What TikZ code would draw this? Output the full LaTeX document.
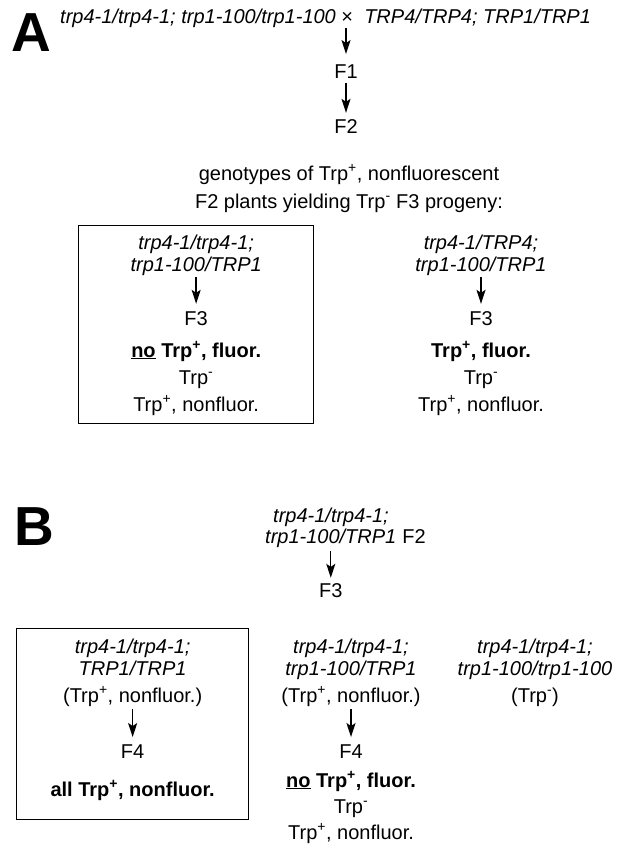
\documentclass[tikz,border=0pt]{standalone}
\usepackage{fontspec}
\setmainfont{Liberation Sans}
\usetikzlibrary{arrows.meta}
\begin{document}
\begin{tikzpicture}[x=1pt,y=-1pt,
  txt/.style={inner sep=0pt, anchor=base, font=\fontsize{20}{22}\selectfont},
  gen/.style={txt, font=\fontsize{20}{22}\selectfont\itshape},
  bld/.style={txt, font=\fontsize{20}{22}\selectfont\bfseries},
  panel/.style={inner sep=0pt, font=\fontsize{55}{55}\selectfont\bfseries, anchor=base west},
  arr/.style={line width=1.4pt, -{Stealth[length=14pt,width=9pt,inset=3pt]}},
  boxline/.style={draw, line width=1.3pt, inner sep=0pt}]
\useasboundingbox (0,0) rectangle (623,856);
% ---------- Panel A ----------
\node[panel] (A) at (11,52) {A};
\node[txt, anchor=base west] (cross) at (60,24) {\textit{trp4-1/trp4-1; trp1-100/trp1-100} × \ \textit{TRP4/TRP4; TRP1/TRP1}};
\node[txt] (F1) at (346,79) {F1};
\node[txt] (F2) at (346,133) {F2};
\draw[arr, shorten >=11pt] (F1.north |- cross.south) -- (F1.north);
\draw[arr, shorten <=4pt, shorten >=6pt] (F1.south) -- (F2.north);
\node[txt] (q1) at (349,180) {genotypes of Trp\textsuperscript{+}, nonfluorescent};
\node[txt] (q2) at (349,208) {F2 plants yielding Trp\textsuperscript{-} F3 progeny:};
% boxed genotype
\node[boxline, minimum width=235, minimum height=198, anchor=north west] (boxA) at (78,225) {};
\node[gen] (a1) at (boxA.center |- 0,249) {trp4-1/trp4-1;};
\node[gen] (a2) at (boxA.center |- 0,271) {trp1-100/TRP1};
\node[txt] (a3) at (boxA.center |- 0,325) {F3};
\node[bld] (a4) at (boxA.center |- 0,357) {\underline{no} Trp\textsuperscript{+}, fluor.};
\node[txt] (a5) at (boxA.center |- 0,384) {Trp\textsuperscript{-}};
\node[txt] (a6) at (boxA.center |- 0,411) {Trp\textsuperscript{+}, nonfluor.};
\draw[arr, shorten <=2pt, shorten >=7pt] (a2.south) -- (a3.north);
% right genotype
\node[gen] (b1) at (481,249) {trp4-1/TRP4;};
\node[gen] (b2) at (481,271) {trp1-100/TRP1};
\node[txt] (b3) at (481,325) {F3};
\node[bld] (b4) at (481,357) {Trp\textsuperscript{+}, fluor.};
\node[txt] (b5) at (481,384) {Trp\textsuperscript{-}};
\node[txt] (b6) at (481,411) {Trp\textsuperscript{+}, nonfluor.};
\draw[arr, shorten <=2pt, shorten >=7pt] (b2.south) -- (b3.north);
% ---------- Panel B ----------
\node[panel] (B) at (14,545) {B};
\node[gen] (c1) at (331,522) {trp4-1/trp4-1;};
\node[gen, anchor=base west] (c2) at (265,543) {trp1-100/TRP1};
\node[txt, anchor=base west] (c2b) at (c2.base east) {\ F2};
\node[txt] (c3) at (c2.center |- 0,597) {F3};
\draw[arr, shorten <=4pt, shorten >=5pt] (c2.south) -- (c3.north);
% boxed
\node[boxline, minimum width=232, minimum height=191, anchor=north west] (boxB) at (16,628) {};
\node[gen] (d1) at (boxB.center |- 0,653) {trp4-1/trp4-1;};
\node[gen] (d2) at (boxB.center |- 0,675) {TRP1/TRP1};
\node[txt] (d3) at (boxB.center |- 0,702) {(Trp\textsuperscript{+}, nonfluor.)};
\node[txt] (d4) at (boxB.center |- 0,758) {F4};
\node[bld] (d5) at (boxB.center |- 0,796) {all Trp\textsuperscript{+}, nonfluor.};
\draw[arr, shorten <=3pt, shorten >=7pt] (d3.south) -- (d4.north);
% middle
\node[gen] (e1) at (351,653) {trp4-1/trp4-1;};
\node[gen] (e2) at (351,675) {trp1-100/TRP1};
\node[txt] (e3) at (351,702) {(Trp\textsuperscript{+}, nonfluor.)};
\node[txt] (e4) at (351,758) {F4};
\node[bld] (e5) at (351,787) {\underline{no} Trp\textsuperscript{+}, fluor.};
\node[txt] (e6) at (351,813) {Trp\textsuperscript{-}};
\node[txt] (e7) at (351,839) {Trp\textsuperscript{+}, nonfluor.};
\draw[arr, shorten <=3pt, shorten >=7pt] (e3.south) -- (e4.north);
% right
\node[gen] (f1) at (535,653) {trp4-1/trp4-1;};
\node[gen] (f2) at (535,675) {trp1-100/trp1-100};
\node[txt] (f3) at (535,702) {(Trp\textsuperscript{-})};
\end{tikzpicture}
\end{document}
